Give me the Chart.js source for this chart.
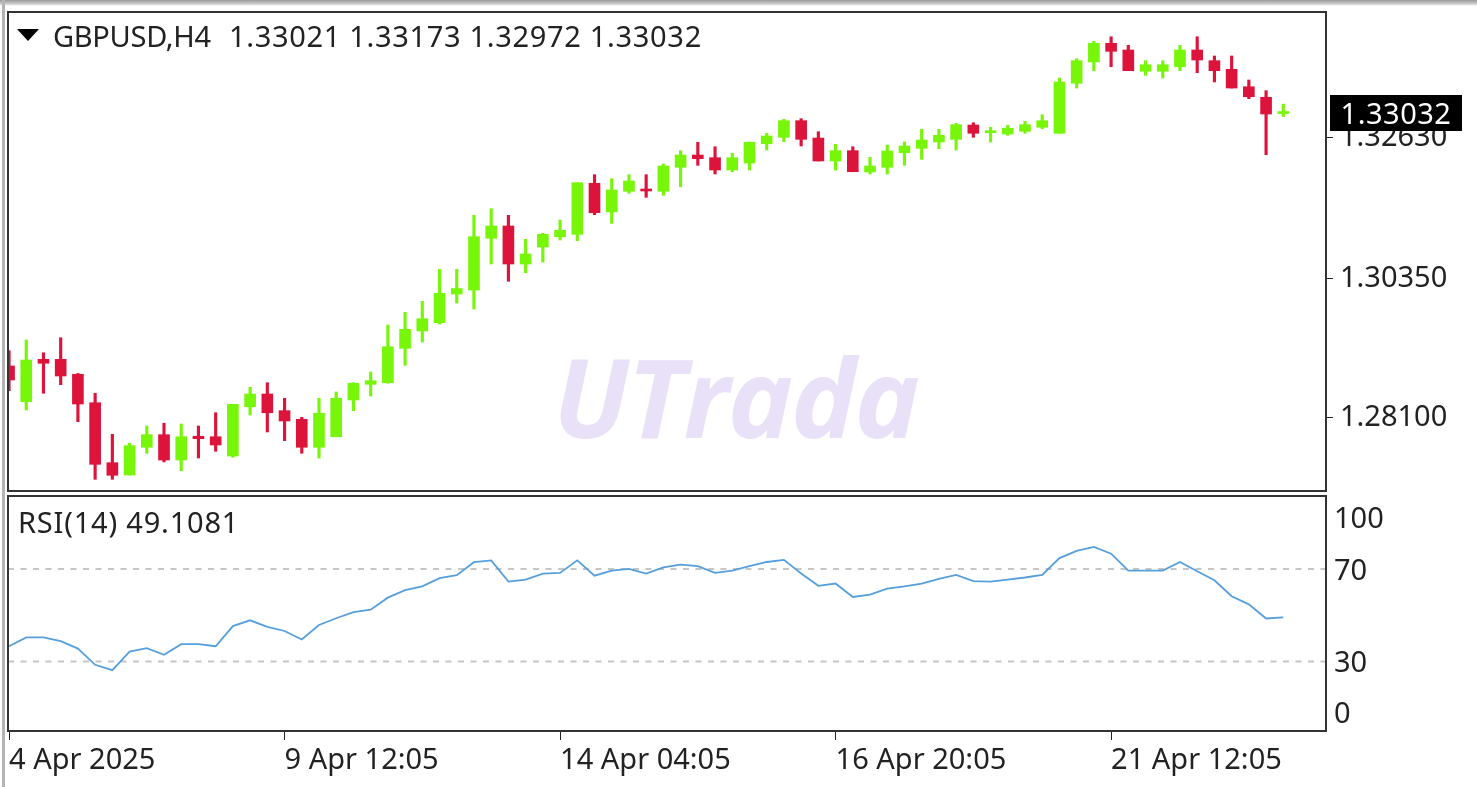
<!DOCTYPE html>
<html>
<head>
<meta charset="utf-8">
<title>GBPUSD,H4</title>
<script src="https://cdn.jsdelivr.net/npm/chart.js@4/dist/chart.umd.js"></script>
<style>
  html, body { margin: 0; padding: 0; background: #fff; overflow: hidden; }
  #page { position: relative; width: 1477px; height: 787px; font-family: "Noto Sans", sans-serif; color: #222; }
  #page canvas { position: absolute; left: 0; top: 0; }
  .band-top { position: absolute; left: 0; top: 0; width: 1477px; height: 6px; background: linear-gradient(#9a9a9a, #c8c8c8 60%, #fff); }
  .band-left { position: absolute; left: 2px; top: 0; width: 3px; height: 787px; background: #b4b4b4; }
  .frame { position: absolute; border: 2px solid #333; box-sizing: border-box; }
  .txt { position: absolute; font-size: 29px; line-height: 36px; white-space: pre; }
  .arrow { position: absolute; left: 17px; top: 29px; width: 0; height: 0; border-left: 11px solid transparent; border-right: 11px solid transparent; border-top: 12px solid #000; }
  .tag { position: absolute; left: 1330px; top: 95px; width: 132px; height: 36px; background: #000; color: #fff; font-size: 29px; line-height: 36px; text-align: center; letter-spacing: 0.5px; }
  .mark { position: absolute; left: 553px; top: 320px; font-family: "Open Sans", sans-serif; font-style: italic; font-weight: 700; font-size: 110px; line-height: 150px; letter-spacing: -2px; color: #e9e1f7; white-space: pre; }
</style>
</head>
<body>
<div id="page">
  <div class="band-top"></div>
  <div class="band-left"></div>
  <div class="mark">UTrada</div>
  <canvas id="chart-price" width="1477" height="787"></canvas>
  <canvas id="chart-rsi" width="1477" height="787"></canvas>
  <div class="frame" style="left:7px;top:11px;width:1320px;height:481px"></div>
  <div class="frame" style="left:7px;top:495px;width:1320px;height:237px"></div>
  <div class="arrow"></div>
  <div class="txt" style="left:53px;top:18px;letter-spacing:-0.3px">GBPUSD,H4</div>
  <div class="txt" style="left:229px;top:18px;letter-spacing:0.68px">1.33021 1.33173 1.32972 1.33032</div>
  <div class="txt" style="left:18px;top:504px;letter-spacing:0.8px">RSI(14) 49.1081</div>
  <div class="tag">1.33032</div>
</div>
<script>
const opens = [
  1.28931, 1.28352, 1.29039, 1.29039, 1.28796, 1.28336, 1.27364, 1.27165, 1.27614, 1.27818,
  1.27408, 1.27792, 1.27785, 1.27473, 1.28271, 1.28477, 1.28207, 1.28067, 1.27614, 1.27785,
  1.28380, 1.28634, 1.28660, 1.29218, 1.29498, 1.29632, 1.30097, 1.30162, 1.31000, 1.31199,
  1.30583, 1.30859, 1.31025, 1.31064, 1.31891, 1.31426, 1.31761, 1.31793, 1.31761, 1.32150,
  1.32349, 1.32305, 1.32106, 1.32219, 1.32532, 1.32636, 1.32905, 1.32624, 1.32252, 1.32419,
  1.32074, 1.32150, 1.32386, 1.32458, 1.32560, 1.32603, 1.32835, 1.32710, 1.32689, 1.32733,
  1.32798, 1.32701, 1.33511, 1.33856, 1.34159, 1.34050, 1.33705, 1.33705, 1.33779, 1.34050,
  1.33877, 1.33737, 1.33455, 1.33284, 1.33021
];
const highs = [
  1.29179, 1.29352, 1.29146, 1.29389, 1.28810, 1.28489, 1.27824, 1.27679, 1.27959, 1.28003,
  1.27991, 1.27959, 1.28174, 1.28310, 1.28586, 1.28660, 1.28408, 1.28100, 1.28408, 1.28510,
  1.28660, 1.28834, 1.29595, 1.29801, 1.29979, 1.30497, 1.30497, 1.31372, 1.31479, 1.31372,
  1.30983, 1.31081, 1.31296, 1.31900, 1.32030, 1.31965, 1.32030, 1.32030, 1.32203, 1.32419,
  1.32555, 1.32483, 1.32377, 1.32560, 1.32701, 1.32927, 1.32937, 1.32726, 1.32522, 1.32483,
  1.32312, 1.32511, 1.32560, 1.32765, 1.32765, 1.32863, 1.32872, 1.32798, 1.32830, 1.32895,
  1.33002, 1.33596, 1.33909, 1.34191, 1.34265, 1.34126, 1.33877, 1.33877, 1.34126, 1.34265,
  1.33953, 1.33953, 1.33564, 1.33391, 1.33173
];
const lows = [
  1.28531, 1.28218, 1.28489, 1.28628, 1.28028, 1.27095, 1.27095, 1.27165, 1.27517, 1.27376,
  1.27235, 1.27440, 1.27549, 1.27452, 1.28137, 1.27862, 1.27721, 1.27517, 1.27440, 1.27785,
  1.28207, 1.28445, 1.28651, 1.28942, 1.29320, 1.29611, 1.29951, 1.29854, 1.30583, 1.30303,
  1.30442, 1.30616, 1.30972, 1.30961, 1.31382, 1.31243, 1.31729, 1.31664, 1.31696, 1.31835,
  1.32182, 1.32041, 1.32078, 1.32106, 1.32430, 1.32564, 1.32495, 1.32252, 1.32106, 1.32078,
  1.32041, 1.32041, 1.32182, 1.32279, 1.32451, 1.32430, 1.32636, 1.32560, 1.32668, 1.32701,
  1.32775, 1.32701, 1.33434, 1.33715, 1.33779, 1.33715, 1.33640, 1.33596, 1.33715, 1.33682,
  1.33532, 1.33434, 1.33261, 1.32354, 1.32972
];
const closes = [
  1.28704, 1.29028, 1.28975, 1.28769, 1.28315, 1.27338, 1.27160, 1.27640, 1.27818, 1.27408,
  1.27785, 1.27753, 1.27651, 1.28310, 1.28477, 1.28174, 1.28040, 1.27614, 1.28165, 1.28408,
  1.28651, 1.28693, 1.29243, 1.29525, 1.29697, 1.30109, 1.30186, 1.31025, 1.31199, 1.30583,
  1.30745, 1.31064, 1.31129, 1.31900, 1.31414, 1.31782, 1.31928, 1.31766, 1.32171, 1.32349,
  1.32289, 1.32106, 1.32305, 1.32555, 1.32657, 1.32905, 1.32603, 1.32252, 1.32419, 1.32078,
  1.32171, 1.32414, 1.32495, 1.32592, 1.32668, 1.32840, 1.32701, 1.32733, 1.32782, 1.32840,
  1.32905, 1.33532, 1.33877, 1.34159, 1.34029, 1.33715, 1.33812, 1.33812, 1.34050, 1.33888,
  1.33715, 1.33434, 1.33293, 1.33013, 1.33032
];
const rsi = [
  36.6, 40.4, 40.4, 38.8, 35.6, 28.6, 26.3, 34.3, 35.8, 32.9,
  37.5, 37.5, 36.6, 45.3, 47.8, 45.0, 43.2, 39.5, 45.8, 48.7,
  51.3, 52.4, 57.6, 60.8, 62.5, 66.0, 67.3, 72.9, 73.7, 64.5,
  65.4, 68.0, 68.3, 73.7, 67.1, 69.3, 70.0, 68.0, 70.7, 71.9,
  71.2, 68.3, 69.3, 71.2, 73.0, 73.9, 68.0, 62.7, 63.7, 57.9,
  58.9, 61.5, 62.5, 63.7, 65.7, 67.4, 64.7, 64.5, 65.4, 66.3,
  67.4, 74.7, 77.8, 79.5, 76.6, 69.3, 69.3, 69.3, 73.0, 69.0,
  65.1, 58.2, 54.7, 48.6, 49.1081
];
const rsiLevels = [70, 30];
const priceTicks = [1.3263, 1.3035, 1.281];
const rsiTickPos = [91.2, 68.7, 29.2, 7];
const rsiTickLabels = ['100', '70', '30', '0'];
const xTickIndex = [0, 16, 32, 48, 64];
const xTickLabels = ['4 Apr 2025', '9 Apr 12:05', '14 Apr 04:05', '16 Apr 20:05', '21 Apr 12:05'];

const GREEN = '#77f60a';
const RED = '#dc143c';
const INK = '#222';
const X_MIN = -0.06;
const X_MAX = 76.48;
const tickFont = { family: '"Noto Sans", sans-serif', size: 29 };

const candleColors = closes.map((c, i) => c >= opens[i] ? GREEN : RED);

// tick labels may stick out of the plot, so the axis must not push the plot area in
function fixAxisWidth(s) {
  s.width = 151;
  s.paddingTop = 0;
  s.paddingBottom = 0;
}

// price panel: wicks and bodies are two floating bar sets on top of each other
new Chart(document.getElementById('chart-price'), {
  type: 'bar',
  data: {
    datasets: [
      {
        data: lows.map((l, i) => ({ x: i, y: [l, highs[i]] })),
        backgroundColor: candleColors,
        barThickness: 2.5,
        grouped: false,
        order: 2,
      },
      {
        data: opens.map((o, i) => ({ x: i, y: [o, closes[i]] })),
        backgroundColor: candleColors,
        barThickness: 11,
        minBarLength: 2,
        grouped: false,
        order: 1,
      },
    ],
  },
  options: {
    responsive: false,
    animation: false,
    layout: { padding: { left: 8, top: 12, right: 0, bottom: 296 } },
    plugins: { legend: { display: false }, tooltip: { enabled: false } },
    scales: {
      x: { type: 'linear', display: false, offset: false, min: X_MIN, max: X_MAX },
      y: {
        position: 'right',
        min: 1.269058,
        max: 1.346656,
        border: { display: false },
        grid: { drawOnChartArea: false, color: INK, tickLength: 7 },
        ticks: {
          color: INK,
          font: tickFont,
          padding: 7,
          callback: v => v.toFixed(5),
        },
        afterBuildTicks: s => { s.ticks = priceTicks.map(value => ({ value })); },
        afterFit: fixAxisWidth,
      },
    },
  },
});

// RSI panel
new Chart(document.getElementById('chart-rsi'), {
  type: 'line',
  data: {
    datasets: [
      ...rsiLevels.map(level => ({
        data: [{ x: X_MIN, y: level }, { x: X_MAX, y: level }],
        borderColor: '#c6c6c6',
        borderWidth: 2,
        borderDash: [6, 6.5],
        pointRadius: 0,
        order: 2,
      })),
      {
        data: rsi.map((v, i) => ({ x: i, y: v })),
        borderColor: '#559fdc',
        borderWidth: 1.8,
        pointRadius: 0,
        tension: 0,
        order: 1,
      },
    ],
  },
  options: {
    responsive: false,
    animation: false,
    layout: { padding: { left: 8, top: 496, right: 0, bottom: 0 } },
    plugins: { legend: { display: false }, tooltip: { enabled: false } },
    scales: {
      x: {
        type: 'linear',
        min: X_MIN,
        max: X_MAX,
        border: { display: false },
        grid: { drawOnChartArea: false, color: INK, tickLength: 9 },
        ticks: {
          color: INK,
          font: tickFont,
          padding: 3,
          align: 'start',
          maxRotation: 0,
          autoSkip: false,
          callback: (v, i) => xTickLabels[i],
        },
        afterBuildTicks: s => { s.ticks = xTickIndex.map(value => ({ value })); },
        afterFit: s => { s.height = 56; s.paddingLeft = 0; s.paddingRight = 0; },
      },
      y: {
        position: 'right',
        min: 0,
        max: 101.5,
        border: { display: false },
        grid: { display: false },
        ticks: {
          color: INK,
          font: tickFont,
          padding: 0,
          callback: (v, i) => rsiTickLabels[i],
        },
        afterBuildTicks: s => { s.ticks = rsiTickPos.map(value => ({ value })); },
        afterFit: fixAxisWidth,
      },
    },
  },
});
</script>
</body>
</html>
